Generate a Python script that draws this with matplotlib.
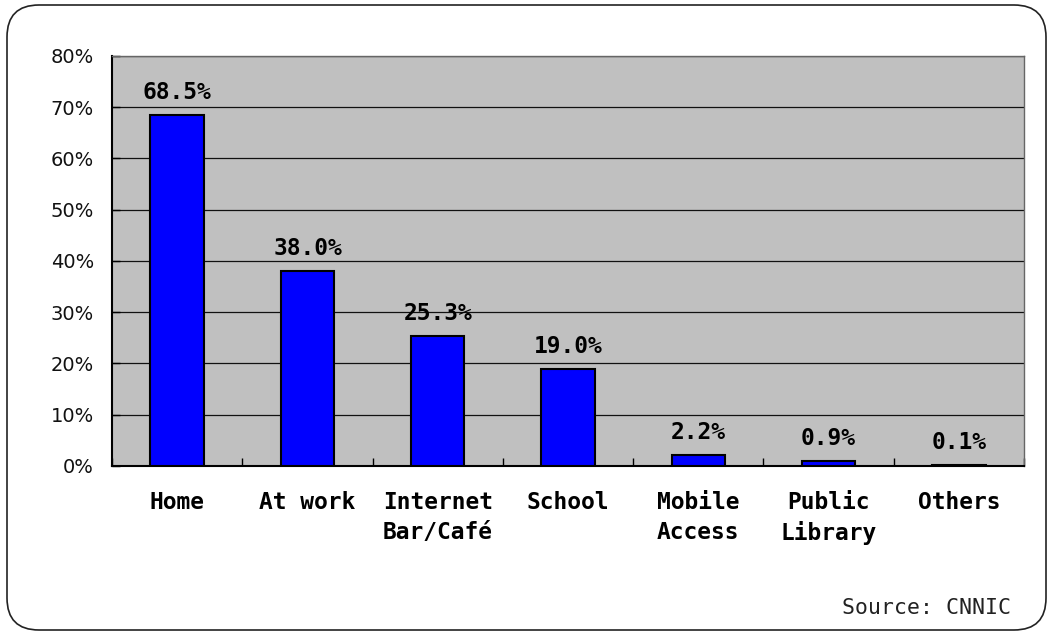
import numpy as np
import matplotlib
matplotlib.use("Agg")
import matplotlib.pyplot as plt
from matplotlib.patches import FancyBboxPatch

# data
categories = ["Home", "At work", "Internet\nBar/Café", "School",
              "Mobile\nAccess", "Public\nLibrary", "Others"]
values = [68.5, 38.0, 25.3, 19.0, 2.2, 0.9, 0.1]
yticks = [0, 10, 20, 30, 40, 50, 60, 70, 80]

mono = "DejaVu Sans Mono"

fig = plt.figure(figsize=(10.53, 6.34), dpi=100)
fig.patch.set_facecolor("white")

# rounded frame round the whole chart
frame = FancyBboxPatch((0.07, 0.04), 10.39, 6.25,
                       boxstyle="round,pad=0,rounding_size=0.32",
                       transform=fig.dpi_scale_trans,
                       facecolor="none", edgecolor="#222222", linewidth=1.2)
fig.patches.append(frame)

ax = fig.add_axes([0.1064, 0.265, 0.8661, 0.6467])
ax.set_facecolor("#C0C0C0")

x = np.arange(len(categories))
ax.bar(x, values, width=0.41, color="#0000FF", edgecolor="black",
       linewidth=1.5, zorder=3)

for xi, v in zip(x, values):
    ax.annotate(f"{v:.1f}%", (xi, v), xytext=(0, 8), textcoords="offset points",
                ha="center", va="bottom", fontsize=16.5, fontweight="bold",
                family=mono, color="black", zorder=4)

ax.set_xlim(-0.5, len(categories) - 0.5)
ax.set_ylim(0, 80)
ax.set_yticks(yticks)
ax.set_yticklabels([f"{t}%" for t in yticks], fontsize=14, family="DejaVu Sans",
                   color="#111111")
ax.yaxis.grid(True, color="#111111", linewidth=0.9, zorder=1)
ax.set_axisbelow(True)

# x ticks sit on the category boundaries, labels at the centres
ax.set_xticks(np.arange(len(categories) + 1) - 0.5)
ax.set_xticklabels([])
ax.set_xticks(x, minor=True)
ax.set_xticklabels(categories, minor=True, fontsize=16.5, fontweight="bold",
                   family=mono, linespacing=1.38, va="top")
ax.tick_params(axis="x", which="minor", length=0, pad=18)
ax.tick_params(axis="x", which="major", direction="in", length=6, width=1)
ax.tick_params(axis="y", direction="in", length=6, width=1, pad=13)

for s in ["left", "bottom"]:
    ax.spines[s].set_color("black")
    ax.spines[s].set_linewidth(1.5)
for s in ["top", "right"]:
    ax.spines[s].set_color("#666666")
    ax.spines[s].set_linewidth(1.0)

fig.text(0.96, 0.025, "Source: CNNIC", ha="right", va="bottom",
         fontsize=15.5, family=mono, color="#222222")

fig.savefig("out.png", dpi=100)
